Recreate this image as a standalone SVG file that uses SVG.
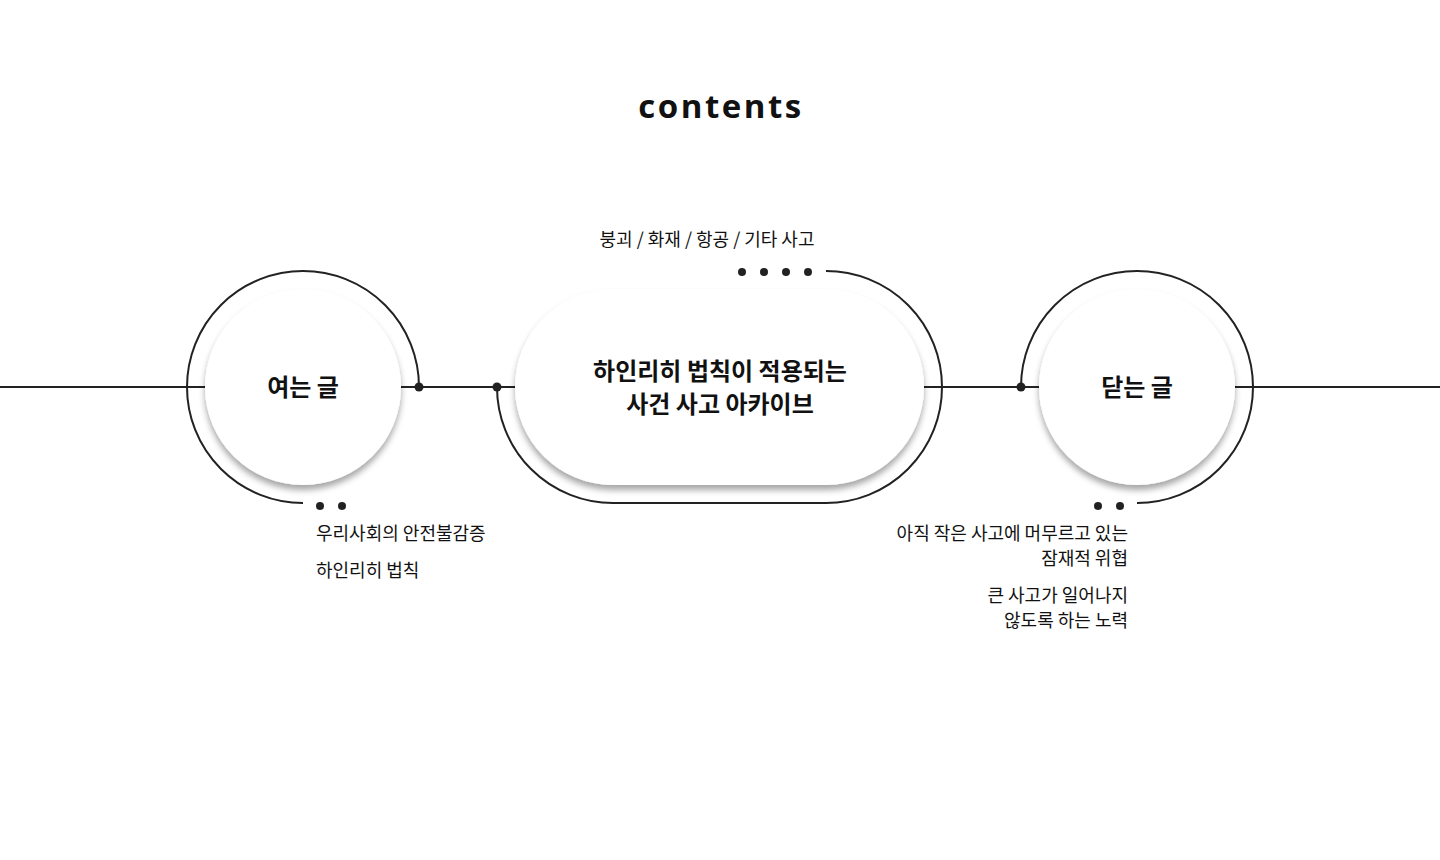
<svg xmlns="http://www.w3.org/2000/svg" width="1440" height="860" viewBox="0 0 1440 860">
<style>
.ln{fill:none;stroke:#222;stroke-width:2}
.dot{fill:#222}
.t{font-family:"Noto Sans CJK KR","Noto Sans",sans-serif;fill:#111}
.title{font-size:24px;font-weight:700;text-anchor:middle}
.sub{font-size:18px}
.inner{fill:#fff;filter:url(#sh)}
</style>
<defs>
<filter id="sh" x="-20%" y="-20%" width="140%" height="150%">
<feDropShadow dx="0" dy="5" stdDeviation="3" flood-color="#000" flood-opacity="0.35"/>
</filter>
</defs>
<rect width="1440" height="860" fill="#fff"/>
<text x="721" y="118" text-anchor="middle" style="font-family:'Open Sans','Noto Sans',sans-serif;font-size:33px;font-weight:700;letter-spacing:2.5px;fill:#111">contents</text>
<g id="connectors">
<line class="ln" x1="0" y1="387" x2="1440" y2="387"/>
<path class="ln" d="M419 387 A116 116 0 1 0 303 503"/>
<path class="ln" d="M826 271 A116 116 0 0 1 826 503 L613 503 A116 116 0 0 1 497 387"/>
<path class="ln" d="M1021 387 A116 116 0 1 1 1137 503"/>
<circle class="dot" cx="419" cy="387" r="4.5"/>
<circle class="dot" cx="497" cy="387" r="4.5"/>
<circle class="dot" cx="1021" cy="387" r="4.5"/>
<circle class="dot" cx="320" cy="506" r="4"/>
<circle class="dot" cx="342" cy="506" r="4"/>
<circle class="dot" cx="1098" cy="506" r="4"/>
<circle class="dot" cx="1120" cy="506" r="4"/>
<circle class="dot" cx="742" cy="272" r="4"/>
<circle class="dot" cx="764" cy="272" r="4"/>
<circle class="dot" cx="786" cy="272" r="4"/>
<circle class="dot" cx="808" cy="272" r="4"/>
</g>
<g id="node-open">
<circle class="inner" cx="303" cy="387" r="98"/>
<text class="t title" x="303" y="396">여는 글</text>
<text class="t sub" x="316" y="540">우리사회의 안전불감증</text>
<text class="t sub" x="316" y="577">하인리히 법칙</text>
</g>
<g id="node-archive">
<rect class="inner" x="515" y="289" width="409" height="196" rx="98"/>
<text class="t title" x="720" y="380">하인리히 법칙이 적용되는</text>
<text class="t title" x="720" y="413">사건 사고 아카이브</text>
<text class="t sub" x="707" y="246" text-anchor="middle">붕괴 / 화재 / 항공 / 기타 사고</text>
</g>
<g id="node-close">
<circle class="inner" cx="1137" cy="387" r="98"/>
<text class="t title" x="1137" y="396">닫는 글</text>
<text class="t sub" x="1128" y="540" text-anchor="end">아직 작은 사고에 머무르고 있는</text>
<text class="t sub" x="1128" y="565" text-anchor="end">잠재적 위협</text>
<text class="t sub" x="1128" y="602" text-anchor="end">큰 사고가 일어나지</text>
<text class="t sub" x="1128" y="627" text-anchor="end">않도록 하는 노력</text>
</g>
</svg>
